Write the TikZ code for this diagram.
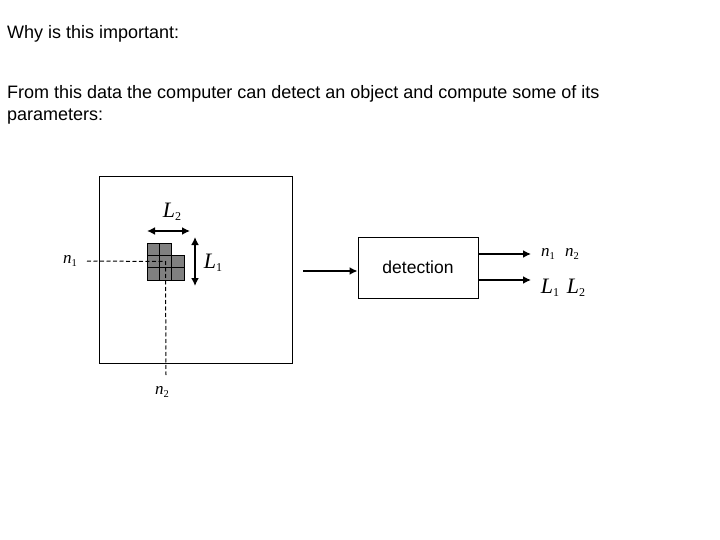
\documentclass[tikz,border=0pt]{standalone}
\usepackage{fontspec}
\setmainfont{Liberation Sans}
\newfontfamily\tms{Liberation Serif}
\usetikzlibrary{arrows.meta}
\newcommand{\varL}[1]{{\tms\fontsize{22}{22}\selectfont\itshape L\raisebox{-0.3ex}{\upshape\fontsize{12}{12}\selectfont #1}}}
\newcommand{\varn}[1]{{\tms\fontsize{17}{17}\selectfont\itshape n\raisebox{-0.3ex}{\upshape\fontsize{10.5}{10.5}\selectfont #1}}}
\begin{document}
\begin{tikzpicture}[x=1pt,y=-1pt,
  txt/.style={inner sep=0pt,anchor=base west,font=\fontsize{18}{22}\selectfont},
  lbl/.style={inner sep=0pt},
  cell/.style={draw=black,fill=black!50,line width=0.7pt},
  arr/.style={line width=2pt,-{Latex[length=8pt,width=8pt]}},
  darr/.style={line width=2pt,{Latex[length=8pt,width=8pt]}-{Latex[length=8pt,width=8pt]}},
  dsh/.style={line width=1pt,dash pattern=on 4pt off 2.5pt}]
\useasboundingbox (0,0) rectangle (720,540);
% texts
\node[txt] (t1) at (7,39) {Why is this important:};
\node[txt] (t2) at (7,99) {From this data the computer can detect an object and compute some of its};
\node[txt] (t3) at (7,121) {parameters:};
% frame
\node[draw,line width=1pt,minimum width=193pt,minimum height=186pt,inner sep=0pt] (frame) at (195.5,270) {};
% pixel cells
\foreach \c/\r in {0/0,1/0,0/1,1/1,2/1,0/2,1/2,2/2}{
  \node[cell,minimum size=12.33pt,inner sep=0pt] (c\c\r) at (147+6.17+\c*12.33, 243+6.17+\r*12.33) {};
}
% labels in frame
\node[lbl] (n1l) at (70,261) {\varn{1}};
\node[lbl] (n2l) at (162,392) {\varn{2}};
\coordinate (d0) at (87,261);
\coordinate (d1) at (166,375);
\draw[dsh] (d0) -- (c11.center) -- (d1);
\coordinate (a2l) at (147,231);
\coordinate (a2r) at (190,231);
\draw[darr] (a2l) -- (a2r);
\node[lbl] (L2l) at (172,212) {\varL{2}};
\coordinate (a1t) at (195,237);
\coordinate (a1b) at (195,286);
\draw[darr] (a1t) -- (a1b);
\node[lbl] (L1l) at (213,263) {\varL{1}};
% detection
\node[draw,line width=1pt,minimum width=120pt,minimum height=61pt,inner sep=0pt,font=\fontsize{17.5}{20}\selectfont] (det) at (418,267.5) {detection};
\coordinate (in) at (303,271);
\draw[arr] (in) -- (in -| det.west);
\coordinate (o1) at (531,254);
\coordinate (o2) at (531,280);
\draw[arr] (o1 -| det.east) -- (o1);
\draw[arr] (o2 -| det.east) -- (o2);
\node[lbl] (on1) at (548,254) {\varn{1}};
\node[lbl] (on2) at (572,254) {\varn{2}};
\node[lbl] (oL1) at (550,288) {\varL{1}};
\node[lbl] (oL2) at (576,288) {\varL{2}};
\end{tikzpicture}
\end{document}
